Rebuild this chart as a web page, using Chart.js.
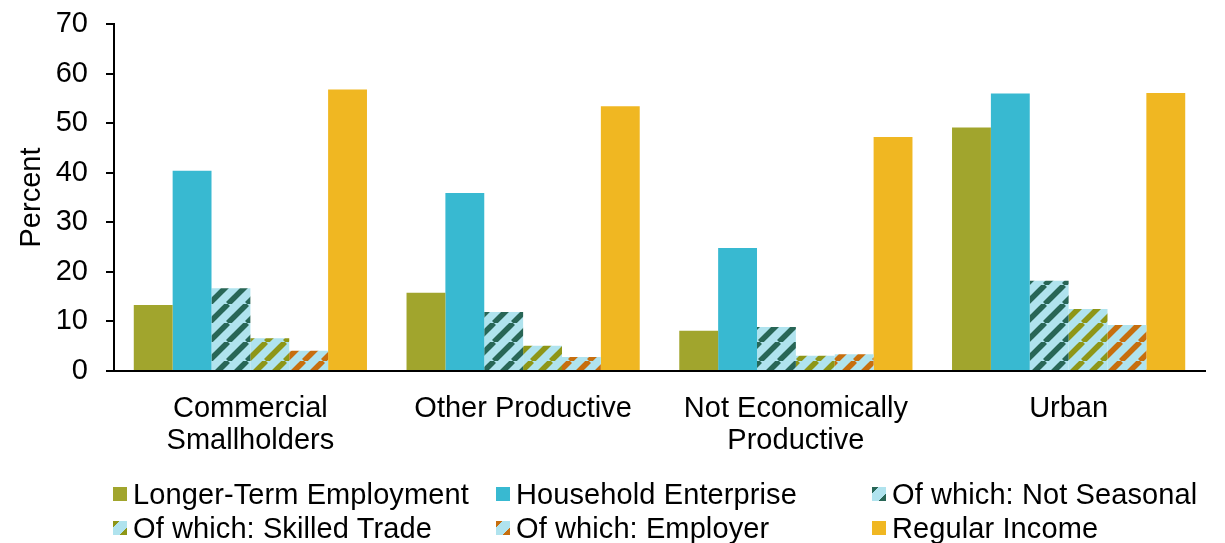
<!DOCTYPE html>
<html>
<head>
<meta charset="utf-8">
<script src="https://cdn.jsdelivr.net/npm/chart.js@4.4.1/dist/chart.umd.min.js"></script>
<style>
  html, body { margin: 0; padding: 0; background: #fff; }
  #wrap { position: relative; width: 1225px; height: 543px; }
  #legend { position: absolute; left: 0; top: 0; width: 1225px; height: 543px; pointer-events: none;
            font-family: "Liberation Sans", Arial, sans-serif; font-size: 29px; color: #000; }
  .item { position: absolute; display: flex; align-items: center; white-space: nowrap;
          line-height: 34px; letter-spacing: 0.1px; }
  .sw { width: 14px; height: 14px; margin-right: 6px; flex: none; }
</style>
</head>
<body>
<div id="wrap">
  <canvas id="chart" width="1225" height="543"></canvas>
  <div id="legend"></div>
</div>
<script>
// ─── Data ────────────────────────────────────────────────────────────────────

const categories = [
  ['Commercial', 'Smallholders'],
  ['Other Productive'],
  ['Not Economically', 'Productive'],
  ['Urban'],
];

const seriesNames = [
  'Longer-Term Employment',
  'Household Enterprise',
  'Of which: Not Seasonal',
  'Of which: Skilled Trade',
  'Of which: Employer',
  'Regular Income',
];

const longerTerm    = [13.3, 15.8, 8.1, 49.1];
const householdEnt  = [40.4, 35.9, 24.8, 56.0];
const notSeasonal   = [16.7, 11.9, 8.9, 18.2];
const skilledTrade  = [6.6, 5.1, 3.1, 12.5];
const employer      = [4.1, 2.8, 3.4, 9.3];
const regularIncome = [56.8, 53.4, 47.2, 56.1];

const yMin = 0, yMax = 70, yStep = 10;

// ─── Styling helpers ─────────────────────────────────────────────────────────

const FONT = '"Liberation Sans", Arial, sans-serif';
const OLIVE  = '#a1a52d';
const TEAL   = '#38b9d1';
const GOLD   = '#f0b722';
const HATCH_BG = '#b0e3ee';

// upward diagonal hatch on light blue
function hatch(stripe) {
  const p = 19;
  const c = document.createElement('canvas');
  c.width = p; c.height = p;
  const g = c.getContext('2d');
  g.fillStyle = HATCH_BG;
  g.fillRect(0, 0, p, p);
  g.strokeStyle = stripe;
  g.lineWidth = 5.5;
  for (const k of [-p, 0, p]) {
    g.beginPath();
    g.moveTo(k, p);
    g.lineTo(k + p, 0);
    g.stroke();
  }
  return g.createPattern(c, 'repeat');
}

const styles = [
  { fill: OLIVE },
  { fill: TEAL },
  { fill: hatch('#286656'), stripe: '#286656' },
  { fill: hatch('#8e9617'), stripe: '#8e9617' },
  { fill: hatch('#c76e0e'), stripe: '#c76e0e' },
  { fill: GOLD },
];

const seriesData = [longerTerm, householdEnt, notSeasonal, skilledTrade, employer, regularIncome];

// ─── Chart ───────────────────────────────────────────────────────────────────

const ctx = document.getElementById('chart').getContext('2d');

new Chart(ctx, {
  type: 'bar',
  data: {
    labels: categories,
    datasets: seriesNames.map((name, i) => ({
      label: name,
      data: seriesData[i],
      backgroundColor: styles[i].fill,
      borderWidth: 0,
      barPercentage: 1,
      categoryPercentage: 0.855,
    })),
  },
  options: {
    responsive: false,
    animation: false,
    layout: { padding: { top: 24, right: 20, bottom: 0, left: 0 } },
    plugins: {
      legend: { display: false },
      tooltip: { enabled: false },
    },
    scales: {
      x: {
        grid: { display: false },
        border: { display: true, color: '#000', width: 2 },
        ticks: {
          color: '#000',
          padding: 14,
          maxRotation: 0,
          font: { family: FONT, size: 29, lineHeight: 1.1 },
        },
        afterFit: (s) => { s.height = 172; },
      },
      y: {
        min: yMin,
        max: yMax,
        grid: { drawOnChartArea: false, drawTicks: true, tickLength: 8, color: '#000', lineWidth: 2 },
        border: { display: true, color: '#000', width: 2 },
        ticks: {
          stepSize: yStep,
          color: '#000',
          padding: 18,
          font: { family: FONT, size: 29 },
        },
        title: {
          display: true,
          text: 'Percent',
          color: '#000',
          padding: { top: 15, bottom: 0 },
          font: { family: FONT, size: 29 },
        },
        afterFit: (s) => {
          s.width = 114;
          s.paddingTop = 0;      // let layout.padding decide the top edge
          s.paddingBottom = 0;
        },
      },
    },
  },
});

// ─── Legend (fixed three-column grid) ────────────────────────────────────────

const legendCols = [113, 496, 872];
const legendRows = [494, 528];
const legendEl = document.getElementById('legend');

seriesNames.forEach((name, i) => {
  const item = document.createElement('div');
  item.className = 'item';
  item.style.left = legendCols[i % 3] + 'px';
  item.style.top = (legendRows[Math.floor(i / 3)] - 17) + 'px';
  const sw = document.createElement('span');
  sw.className = 'sw';
  const st = styles[i];
  sw.style.background = st.stripe
    ? `linear-gradient(135deg, ${st.stripe} 0 22%, ${HATCH_BG} 22% 72%, ${st.stripe} 72% 100%)`
    : st.fill;
  item.appendChild(sw);
  item.appendChild(document.createTextNode(name));
  legendEl.appendChild(item);
});
</script>
</body>
</html>
